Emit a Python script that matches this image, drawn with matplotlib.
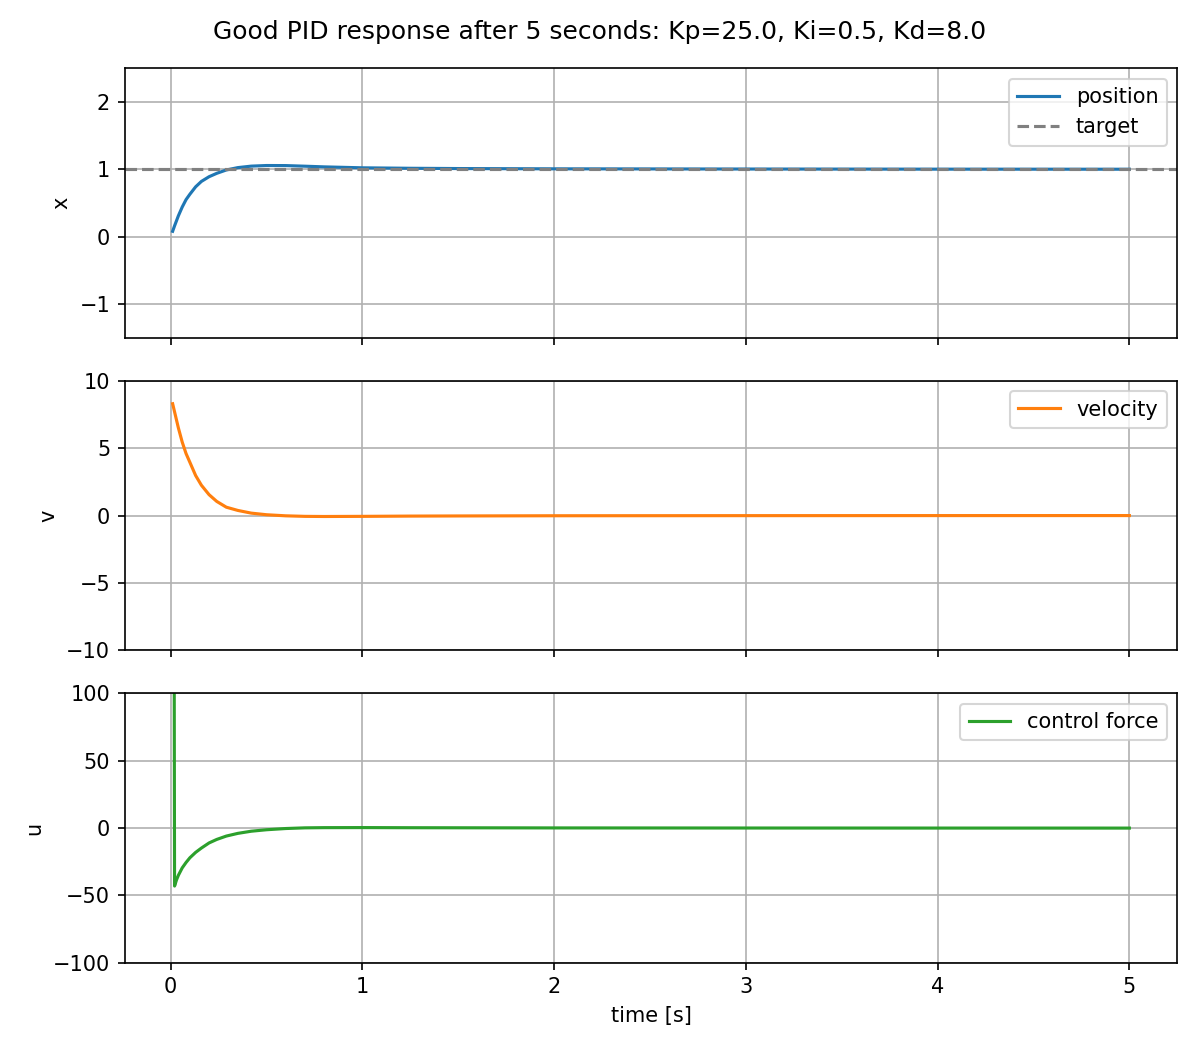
import matplotlib
matplotlib.use("Agg")
import matplotlib.pyplot as plt

# time samples [s]
t = [0.01, 0.02, 0.03, 0.04, 0.06, 0.08, 0.10, 0.13, 0.16, 0.20, 0.24, 0.29,
     0.35, 0.42, 0.50, 0.60, 0.70, 0.80, 1.0, 1.25, 1.5, 2.0, 3.0, 4.0, 5.0]
position = [0.08, 0.16, 0.235, 0.31, 0.44, 0.55, 0.63, 0.74, 0.82, 0.89, 0.94, 0.99,
            1.025, 1.047, 1.056, 1.055, 1.046, 1.036, 1.022, 1.015, 1.011, 1.007,
            1.004, 1.002, 1.001]
velocity = [8.3, 7.7, 7.1, 6.5, 5.45, 4.6, 3.95, 2.97, 2.25, 1.55, 1.05, 0.62,
            0.38, 0.18, 0.06, -0.02, -0.06, -0.07, -0.06, -0.04, -0.03, -0.015,
            -0.007, -0.003, -0.001]
control = [830, -43, -38.5, -35, -29.5, -25.5, -22, -18, -14.8, -11, -8.4, -5.9,
           -3.9, -2.3, -1.2, -0.3, 0.2, 0.35, 0.4, 0.3, 0.25, 0.15, 0.08, 0.04, 0.02]
target = 1.0
title = "Good PID response after 5 seconds: Kp=25.0, Ki=0.5, Kd=8.0"

fig, axes = plt.subplots(3, 1, sharex=True, figsize=(8, 7), dpi=150)
fig.subplots_adjust(left=0.104, right=0.981, top=0.935, bottom=0.083, hspace=0.16)
fig.suptitle(title, fontsize=12, y=1 - 32 / 1050, va="center")

ax = axes[0]
ax.plot(t, position, color="C0", label="position")
ax.axhline(target, color="gray", linestyle="--", label="target")
ax.set_ylim(-1.5, 2.5)
ax.set_yticks([-1, 0, 1, 2])
ax.set_ylabel("x")
ax.grid(True)
ax.legend(loc="upper right")

ax = axes[1]
ax.plot(t, velocity, color="C1", label="velocity")
ax.set_ylim(-10, 10)
ax.set_yticks([-10, -5, 0, 5, 10])
ax.set_ylabel("v")
ax.grid(True)
ax.legend(loc="upper right")

ax = axes[2]
ax.plot(t, control, color="C2", label="control force")
ax.set_ylim(-100, 100)
ax.set_yticks([-100, -50, 0, 50, 100])
ax.set_ylabel("u")
ax.set_xlabel("time [s]")
ax.grid(True)
ax.legend(loc="upper right")

fig.savefig("out.png")
